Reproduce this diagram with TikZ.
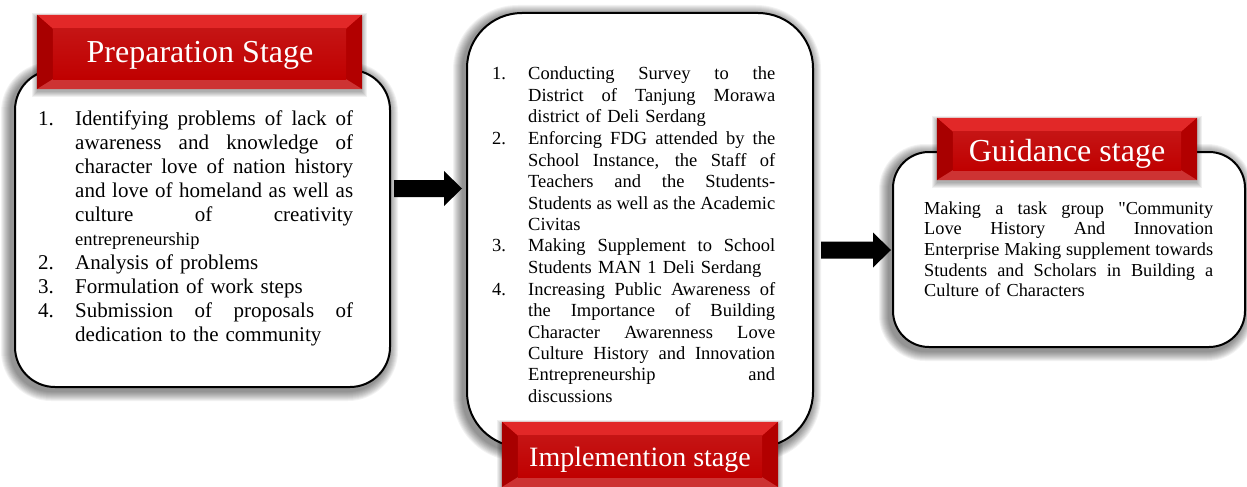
\documentclass[tikz,border=0pt]{standalone}
\usepackage{fontspec}
\setmainfont{Liberation Serif}[Ligatures=TeXOff]
\usetikzlibrary{calc}
\pgfdeclarelayer{bg}
\pgfdeclarelayer{bshadow}
\pgfdeclarelayer{front}
\pgfsetlayers{bg,main,bshadow,front}
\definecolor{bred}{RGB}{192,0,0}
\definecolor{bredlight}{RGB}{226,40,40}
\definecolor{breddark}{RGB}{168,0,0}
\definecolor{bredmid}{RGB}{178,0,0}
\newcommand{\jl}[2]{\leavevmode\hbox to #1{\spaceskip=0.25em plus 1fil\relax #2}}
\newcommand{\nm}[2]{\makebox[#1][l]{#2}}
\tikzset{
  stagebox/.style={draw=black, line width=2pt, fill=white, inner sep=0pt},
  bannerbox/.style={fill=bred, inner sep=0pt},
  bannertext/.style={text=white, inner sep=0pt, anchor=base},
  listtext/.style={inner sep=0pt, anchor=base west},
  arrowfill/.style={fill=black},
}
% glow shadow behind a rounded box node: #1 node, #2 radius
\newcommand{\boxglow}[2]{%
  \begin{pgfonlayer}{bg}
  \foreach \i in {1,...,10}{
    \fill[black, opacity=0.05, rounded corners={(#2+\i)*1pt}]
      ($(#1.south west)+(-\i-3,\i+3)$) rectangle ($(#1.north east)+(\i-3,-\i+3)$);
  }
  \end{pgfonlayer}}
% bevel decoration of a banner node: #1 node
\newcommand{\bevel}[1]{%
  \begin{pgfonlayer}{front}
  \fill[bredlight] (#1.north west) -- (#1.north east) -- ($(#1.north east)+(-16,14)$) -- ($(#1.north west)+(16,14)$) -- cycle;
  \fill[breddark] (#1.north west) -- ($(#1.north west)+(16,14)$) -- ($(#1.south west)+(16,-10)$) -- (#1.south west) -- cycle;
  \fill[bredmid] (#1.north east) -- ($(#1.north east)+(-16,14)$) -- ($(#1.south east)+(-16,-10)$) -- (#1.south east) -- cycle;
  \fill[bred!80!white] (#1.south west) -- ($(#1.south west)+(16,-10)$) -- ($(#1.south east)+(-16,-10)$) -- (#1.south east) -- cycle;
  \shade[top color=bred!92!white, bottom color=bred] ($(#1.north west)+(16,14)$) rectangle ($(#1.south east)+(-16,-10)$);
  \end{pgfonlayer}}
\newcommand{\bannerglow}[1]{%
  \begin{pgfonlayer}{bshadow}
  \foreach \i in {1,...,6}{
    \fill[black, opacity=0.06]
      ($(#1.south west)+(-\i+1,\i+2)$) rectangle ($(#1.north east)+(\i-1,-\i+4)$);
  }
  \end{pgfonlayer}}
% block arrow from #1 to #2
\newcommand{\blockarrow}[2]{%
  \fill[arrowfill] ($(#1)+(0,-8.5)$) -- ($(#2)+(-18,-8.5)$) -- ($(#2)+(-18,-17.5)$) -- (#2)
    -- ($(#2)+(-18,17.5)$) -- ($(#2)+(-18,8.5)$) -- ($(#1)+(0,8.5)$) -- cycle;}
\begin{document}
\begin{tikzpicture}[x=1pt,y=-1pt]
\useasboundingbox (0,0) rectangle (1247,487);
\begin{pgfonlayer}{bg}
\fill[white] (0,0) rectangle (1247,487);
\end{pgfonlayer}

% ---------- boxes ----------
\node[stagebox, rounded corners=40pt, minimum width=375pt, minimum height=317pt] (prep) at (202.5,228.5) {};
\node[stagebox, rounded corners=55pt, minimum width=346pt, minimum height=434pt] (impl) at (640,230) {};
\node[stagebox, rounded corners=36pt, minimum width=352pt, minimum height=195pt] (guid) at (1069,249.5) {};
\boxglow{prep}{40}
\boxglow{impl}{55}
\boxglow{guid}{36}

% ---------- banners ----------
\begin{pgfonlayer}{front}
\node[bannerbox, minimum width=325pt, minimum height=74pt] (prepban) at (199.5,52) {};
\node[bannerbox, minimum width=276pt, minimum height=65pt] (implban) at (640,454.5) {};
\node[bannerbox, minimum width=260pt, minimum height=62pt] (guidban) at (1067,149) {};
\end{pgfonlayer}
\bannerglow{prepban}
\bannerglow{implban}
\bannerglow{guidban}
\bevel{prepban}
\bevel{implban}
\bevel{guidban}
\begin{pgfonlayer}{front}
\node[bannertext, font=\fontsize{32}{36}\selectfont] (preptitle) at (200,63) {Preparation Stage};
\node[bannertext, font=\fontsize{28}{32}\selectfont] (impltitle) at (640,466) {Implemention stage};
\node[bannertext, font=\fontsize{32}{36}\selectfont] (guidtitle) at (1067,161) {Guidance stage};
\end{pgfonlayer}

% ---------- texts ----------
\node[listtext, text width=315pt, font=\fontsize{21}{24}\selectfont] (preplist) at (38,125) {%
\nm{37pt}{1.}\jl{278pt}{Identifying problems of lack of}\\
\hspace*{37pt}\jl{278pt}{awareness and knowledge of}\\
\hspace*{37pt}\jl{278pt}{character love of nation history}\\
\hspace*{37pt}\jl{278pt}{and love of homeland as well as}\\
\hspace*{37pt}\jl{278pt}{culture of creativity}\\
\hspace*{37pt}{\fontsize{18.5}{24}\selectfont entrepreneurship}\\
\nm{37pt}{2.}Analysis of problems\\
\nm{37pt}{3.}Formulation of work steps\\
\nm{37pt}{4.}\jl{278pt}{Submission of proposals of}\\
\hspace*{37pt}dedication to the community};

\node[listtext, text width=283pt, font=\fontsize{18.5}{21.5}\selectfont] (impllist) at (492,80) {%
\nm{36pt}{1.}\jl{247pt}{Conducting Survey to the}\\
\hspace*{36pt}\jl{247pt}{District of Tanjung Morawa}\\
\hspace*{36pt}district of Deli Serdang\\
\nm{36pt}{2.}\jl{247pt}{Enforcing FDG attended by the}\\
\hspace*{36pt}\jl{247pt}{School Instance, the Staff of}\\
\hspace*{36pt}\jl{247pt}{Teachers and the Students-}\\
\hspace*{36pt}\jl{247pt}{Students as well as the Academic}\\
\hspace*{36pt}Civitas\\
\nm{36pt}{3.}\jl{247pt}{Making Supplement to School}\\
\hspace*{36pt}Students MAN 1 Deli Serdang\\
\nm{36pt}{4.}\jl{247pt}{Increasing Public Awareness of}\\
\hspace*{36pt}\jl{247pt}{the Importance of Building}\\
\hspace*{36pt}\jl{247pt}{Character Awarenness Love}\\
\hspace*{36pt}\jl{247pt}{Culture History and Innovation}\\
\hspace*{36pt}\jl{247pt}{Entrepreneurship and}\\
\hspace*{36pt}discussions};

\node[listtext, text width=289pt, font=\fontsize{18.3}{20.7}\selectfont] (guidtext) at (924,214) {%
\jl{289pt}{Making a task group "Community}\\
\jl{289pt}{Love History And Innovation}\\
\jl{289pt}{Enterprise Making supplement towards}\\
\jl{289pt}{Students and Scholars in Building a}\\
Culture of Characters};

% ---------- arrows ----------
\coordinate (a1s) at ($(prep.east)+(3,-40)$);
\coordinate (a1e) at ($(impl.west)+(-4,-41.5)$);
\blockarrow{a1s}{a1e}
\coordinate (a2s) at ($(impl.east)+(7,20)$);
\coordinate (a2e) at ($(guid.west)+(-1,0.5)$);
\blockarrow{a2s}{a2e}
\end{tikzpicture}
\end{document}
